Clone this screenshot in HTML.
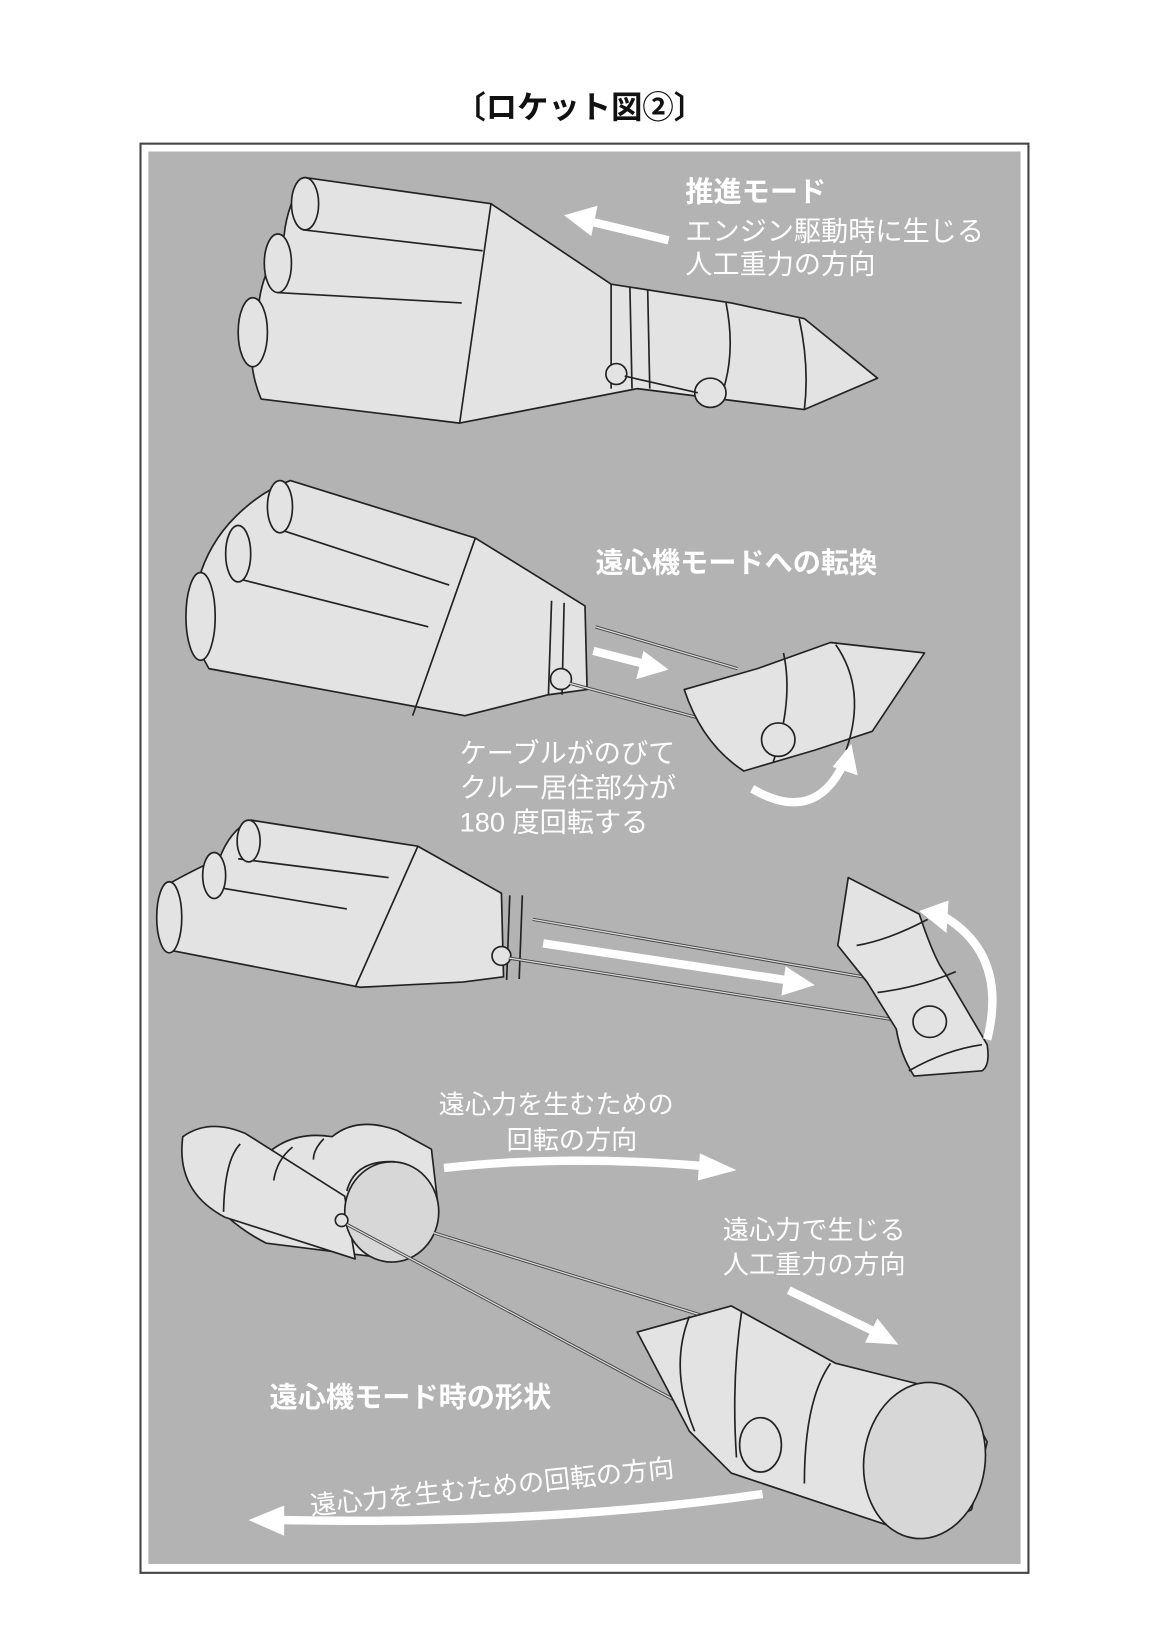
<!DOCTYPE html>
<html><head><meta charset="utf-8"><style>
html,body{margin:0;padding:0;background:#fff}
svg{display:block}
text{font-family:"Liberation Sans","Noto Sans CJK JP",sans-serif;fill:#fff}
.s{fill:#e3e3e3;stroke:#222;stroke-width:1.6;stroke-linejoin:round}
.l{fill:none;stroke:#222;stroke-width:1.6}
.c{fill:none;stroke:#444;stroke-width:3}
.c2{fill:none;stroke:#ddd;stroke-width:1.2}
.w{fill:none;stroke:#fff;stroke-width:8;stroke-linecap:butt}
.ah{fill:#fff}
</style></head><body>
<svg width="1170" height="1635" viewBox="0 0 1120 1565" preserveAspectRatio="none" xmlns="http://www.w3.org/2000/svg">
<text x="555" y="113" font-size="30" font-weight="bold" text-anchor="middle" style="fill:#111">〔ロケット図②〕</text>
<rect x="134.5" y="137.5" width="850" height="1368" fill="#fff" stroke="#444" stroke-width="2"/>
<rect x="142" y="145" width="835" height="1352" fill="#b3b3b3"/>

<!-- Rocket 1 -->
<path class="s" d="M292,170 L470,195 L585,272 L700,290 L770,305 L840,362 L770,392 L610,372 L440,405 L250,382 Q232,340 248,290 Q250,265 272,225 Q275,195 292,170 Z"/>
<path class="l" d="M290,220 L462,240 M265,280 L442,290 M470,195 L440,405 M585,272 L585,372 M603,275 L605,372 M620,277 L622,372 M695,290 Q705,340 690,380 M765,305 Q775,350 770,392"/>
<ellipse cx="292" cy="195" rx="13" ry="25" class="s"/>
<ellipse cx="266" cy="252" rx="13" ry="28" class="s"/>
<ellipse cx="242" cy="318" rx="14" ry="33" class="s"/>
<circle cx="590" cy="358" r="10" class="s"/>
<ellipse cx="680" cy="376" rx="15" ry="14" class="s"/>
<line x1="598" y1="360" x2="668" y2="376" class="l"/>
<path class="w" d="M640,230 L565,212"/><polygon class="ah" points="540,206 572,197 566,226"/>
<text x="656" y="193" font-size="27" font-weight="bold">推進モード</text>
<text x="656" y="230" font-size="26">エンジン駆動時に生じる</text>
<text x="656" y="262" font-size="26">人工重力の方向</text>

<!-- Rocket 2 -->
<path class="s" d="M278,460 L455,515 L560,580 L562,660 L525,665 L445,685 L200,640 Q176,600 190,555 Q200,520 225,495 Q250,470 278,460 Z"/>
<path class="l" d="M262,505 L430,560 M232,555 L410,600 M455,515 L395,685 M528,575 L525,665 M540,577 L538,665"/>
<ellipse cx="268" cy="485" rx="12" ry="25" class="s"/>
<ellipse cx="228" cy="530" rx="12" ry="27" class="s"/>
<ellipse cx="192" cy="590" rx="14" ry="42" class="s"/>
<circle cx="537" cy="650" r="10" class="s"/>
<line x1="570" y1="600" x2="706" y2="640" class="c"/><line x1="570" y1="600" x2="706" y2="640" class="c2"/>
<line x1="545" y1="654" x2="735" y2="705" class="c"/><line x1="545" y1="654" x2="735" y2="705" class="c2"/>
<path class="s" d="M655,660 L725,640 L795,615 L885,625 L835,700 L780,718 L712,738 Q672,712 655,660 Z"/>
<path class="l" d="M750,625 Q760,670 740,730 M800,617 Q830,660 810,718"/>
<ellipse cx="745" cy="708" rx="16" ry="16" class="s"/>
<path class="w" d="M568,623 L615,635"/><polygon class="ah" points="640,641 609,650 616,623"/>
<path class="w" d="M720,755 Q780,790 808,730"/><polygon class="ah" points="815,712 821,742 797,734"/>
<text x="570" y="548" font-size="27" font-weight="bold">遠心機モードへの転換</text>
<text x="440" y="730" font-size="26">ケーブルがのびて</text>
<text x="440" y="763" font-size="26">クルー居住部分が</text>
<text x="440" y="796" font-size="26">180 度回転する</text>

<!-- Rocket 3 -->
<path class="s" d="M240,785 L400,810 L480,855 L482,935 L443,940 L345,945 L165,910 Q150,880 158,848 Q190,830 210,822 Q220,795 240,785 Z"/>
<path class="l" d="M228,822 L372,840 M200,848 L332,870 M400,810 L340,945 M488,857 L485,938 M500,857 L497,937"/>
<ellipse cx="238" cy="805" rx="11" ry="20" class="s"/>
<ellipse cx="205" cy="838" rx="11" ry="22" class="s"/>
<ellipse cx="162" cy="878" rx="12" ry="34" class="s"/>
<circle cx="480" cy="915" r="9" class="s"/>
<line x1="510" y1="880" x2="855" y2="940" class="c"/><line x1="510" y1="880" x2="855" y2="940" class="c2"/>
<line x1="487" y1="917" x2="880" y2="980" class="c"/><line x1="487" y1="917" x2="880" y2="980" class="c2"/>
<path class="s" d="M812,840 L880,875 Q895,920 905,932 L945,1000 Q948,1020 940,1025 L875,1030 Q862,1010 858,985 L830,940 L802,905 Z"/>
<path class="l" d="M820,905 Q850,900 888,880 M840,950 Q880,945 915,930 M870,1025 Q905,1005 940,1000"/>
<ellipse cx="890" cy="978" rx="16" ry="15" class="s"/>
<path class="w" d="M520,903 L752,938"/><polygon class="ah" points="780,943 748,953 752,925"/>
<path class="w" d="M905,878 Q965,915 945,995"/><polygon class="ah" points="880,872 908,862 906,893"/>

<!-- Rocket 4 -->
<path class="s" d="M255,1105 Q280,1082 318,1088 Q342,1068 380,1082 L413,1100 L420,1160 L375,1205 L255,1190 Q235,1180 218,1165 Q200,1130 255,1105 Z"/>
<path class="s" d="M175,1088 Q200,1070 235,1085 L330,1145 L340,1205 L215,1165 Q168,1140 175,1088 Z"/>
<path class="l" d="M280,1098 Q265,1110 262,1130 M310,1090 Q300,1100 300,1110 M230,1095 Q215,1110 214,1160"/>
<ellipse cx="375" cy="1160" rx="45" ry="48" class="s" style="fill:#d7d7d7"/>
<path class="l" d="M332,1140 Q340,1110 378,1112"/>
<circle cx="327" cy="1168" r="6" class="s"/>
<line x1="415" y1="1180" x2="675" y2="1260" class="c"/><line x1="415" y1="1180" x2="675" y2="1260" class="c2"/>
<line x1="332" y1="1172" x2="720" y2="1380" class="c"/><line x1="332" y1="1172" x2="720" y2="1380" class="c2"/>
<path class="s" d="M610,1275 L700,1250 L800,1305 L920,1335 L945,1380 L930,1445 L880,1470 L760,1430 L700,1410 L660,1370 Z"/>
<path class="l" d="M660,1260 Q640,1310 665,1370 M710,1255 Q700,1320 705,1395 M795,1305 Q770,1340 770,1420 M880,1330 Q840,1340 830,1410"/>
<ellipse cx="885" cy="1398" rx="58" ry="75" class="s" style="fill:#d7d7d7" transform="rotate(8 885 1398)"/>
<ellipse cx="728" cy="1383" rx="20" ry="26" class="s"/>
<path class="w" d="M425,1118 Q540,1105 672,1116"/><polygon class="ah" points="705,1120 668,1130 670,1104"/>
<path class="w" d="M755,1235 L836,1274"/><polygon class="ah" points="860,1287 828,1285 840,1262"/>
<path class="w" d="M730,1430 Q520,1460 270,1455"/><polygon class="ah" points="238,1455 272,1441 272,1470"/>
<text x="420" y="1066" font-size="25">遠心力を生むための</text>
<text x="485" y="1100" font-size="25">回転の方向</text>
<text x="692" y="1186" font-size="25">遠心力で生じる</text>
<text x="692" y="1219" font-size="25">人工重力の方向</text>
<text x="258" y="1347" font-size="27" font-weight="bold">遠心機モード時の形状</text>
<text x="298" y="1450" font-size="25" transform="rotate(-6 298 1450)">遠心力を生むための回転の方向</text>
</svg>
</body></html>
